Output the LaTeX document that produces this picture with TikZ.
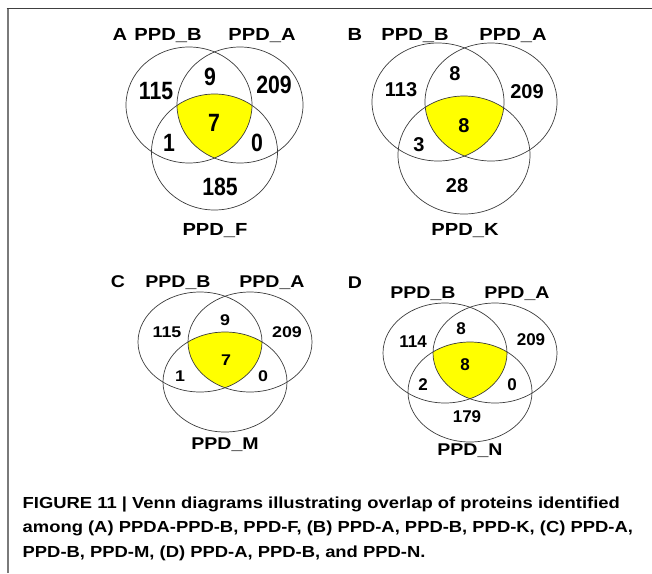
\documentclass[tikz,border=0pt]{standalone}
\usepackage{fontspec}
\setmainfont{Liberation Sans}
\newfontfamily\lsans{Liberation Sans}
\newfontfamily\lwide[FakeStretch=1.15]{Liberation Sans}
\newfontfamily\lnarrow[FakeStretch=0.85]{Liberation Sans}
\definecolor{core}{HTML}{FFFF00}
\definecolor{rim}{HTML}{3C3C3C}
\definecolor{frametop}{HTML}{404040}
\definecolor{frameleft}{HTML}{7A7A7A}
% three rings with the common part filled
\newcommand{\tri}[5]{%
  \begin{scope}
    \clip (#1) ellipse [x radius=#4, y radius=#5];
    \clip (#2) ellipse [x radius=#4, y radius=#5];
    \fill[core] (#3) ellipse [x radius=#4, y radius=#5];
  \end{scope}
  \draw[ring] (#1) ellipse [x radius=#4, y radius=#5];
  \draw[ring] (#2) ellipse [x radius=#4, y radius=#5];
  \draw[ring] (#3) ellipse [x radius=#4, y radius=#5];}
\tikzset{
  ring/.style={draw=rim,line width=0.7pt},
  lab/.style={inner sep=0pt,anchor=base,font=\lwide\bfseries\fontsize{17.5}{17.5}\selectfont},
  labs/.style={lab,font=\lwide\bfseries\fontsize{17}{17}\selectfont},
  numa/.style={inner sep=0pt,font=\lnarrow\bfseries\fontsize{25}{25}\selectfont},
  numb/.style={inner sep=0pt,font=\lsans\bfseries\fontsize{20}{20}\selectfont},
  numc/.style={inner sep=0pt,font=\lwide\bfseries\fontsize{15.5}{15.5}\selectfont},
  numd/.style={inner sep=0pt,font=\lsans\bfseries\fontsize{17}{17}\selectfont},
}
\begin{document}
\begin{tikzpicture}[x=1pt,y=-1pt]
  \useasboundingbox (0,0) rectangle (652,573);
  \draw[frameleft,line width=2pt] (7.5,573) -- (7.5,8.5);
  \draw[frametop,line width=1.5pt] (6.5,8.5) -- (652,8.5);

  % (A)
  \coordinate (aB) at (189,105);
  \coordinate (aA) at (240,105);
  \coordinate (aF) at (214.5,152);
  \tri{aB}{aA}{aF}{63pt}{58pt}
  \node[lab] (aTag) at (120,40) {A};
  \node[lab] (aLabB) at (168,40) {PPD\_B};
  \node[lab] (aLabA) at (262,40) {PPD\_A};
  \node[lab] (aLabF) at (215,235) {PPD\_F};
  \node[numa] (a1) at (156,91) {115};
  \node[numa] (a2) at (210,77) {9};
  \node[numa] (a3) at (274,85) {209};
  \node[numa] (a4) at (214,123) {7};
  \node[numa] (a5) at (169,143) {1};
  \node[numa] (a6) at (257,143) {0};
  \node[numa] (a7) at (220,187) {185};

  % (B)
  \coordinate (bB) at (438,102);
  \coordinate (bA) at (491,102);
  \coordinate (bK) at (464,155);
  \tri{bB}{bA}{bK}{66pt}{59pt}
  \node[lab] (bTag) at (355,40) {B};
  \node[lab] (bLabB) at (415,40) {PPD\_B};
  \node[lab] (bLabA) at (513,40) {PPD\_A};
  \node[lab] (bLabK) at (465,235) {PPD\_K};
  \node[numb] (b1) at (401,90) {113};
  \node[numb] (b2) at (455,74) {8};
  \node[numb] (b3) at (527,92) {209};
  \node[numb] (b4) at (464,126) {8};
  \node[numb] (b5) at (419,145) {3};
  \node[numb] (b6) at (457,186) {28};

  % (C)
  \coordinate (cB) at (200,342);
  \coordinate (cA) at (250,342);
  \coordinate (cM) at (225,382);
  \tri{cB}{cA}{cM}{62pt}{50pt}
  \node[labs] (cTag) at (118,287) {C};
  \node[labs] (cLabB) at (178,287) {PPD\_B};
  \node[labs] (cLabA) at (272,287) {PPD\_A};
  \node[labs] (cLabM) at (225,449) {PPD\_M};
  \node[numc] (c1) at (167,332) {115};
  \node[numc] (c2) at (225,320) {9};
  \node[numc] (c3) at (287,332) {209};
  \node[numc] (c4) at (226,360) {7};
  \node[numc] (c5) at (180,376) {1};
  \node[numc] (c6) at (263,376) {0};

  % (D)
  \coordinate (dB) at (445,353);
  \coordinate (dA) at (495,353);
  \coordinate (dN) at (470,392);
  \tri{dB}{dA}{dN}{62pt}{50pt}
  \node[labs] (dTag) at (355,288) {D};
  \node[labs] (dLabB) at (423,298) {PPD\_B};
  \node[labs] (dLabA) at (517,298) {PPD\_A};
  \node[labs] (dLabN) at (470,455) {PPD\_N};
  \node[numd] (d1) at (413,342) {114};
  \node[numd] (d2) at (461,329) {8};
  \node[numd] (d3) at (531,340) {209};
  \node[numd] (d4) at (465,365) {8};
  \node[numd] (d5) at (423,385) {2};
  \node[numd] (d6) at (512,385) {0};
  \node[numd] (d7) at (467,417) {179};

  \node[anchor=north west,inner sep=0pt,align=left,
        font=\lwide\bfseries\fontsize{16}{24.5}\selectfont] (cap) at (22.5,496.5)
    {FIGURE 11 | Venn diagrams illustrating overlap of proteins identified\\
     among (A) PPDA-PPD-B, PPD-F, (B) PPD-A, PPD-B, PPD-K, (C) PPD-A,\\
     PPD-B, PPD-M, (D) PPD-A, PPD-B, and PPD-N.};
\end{tikzpicture}
\end{document}
